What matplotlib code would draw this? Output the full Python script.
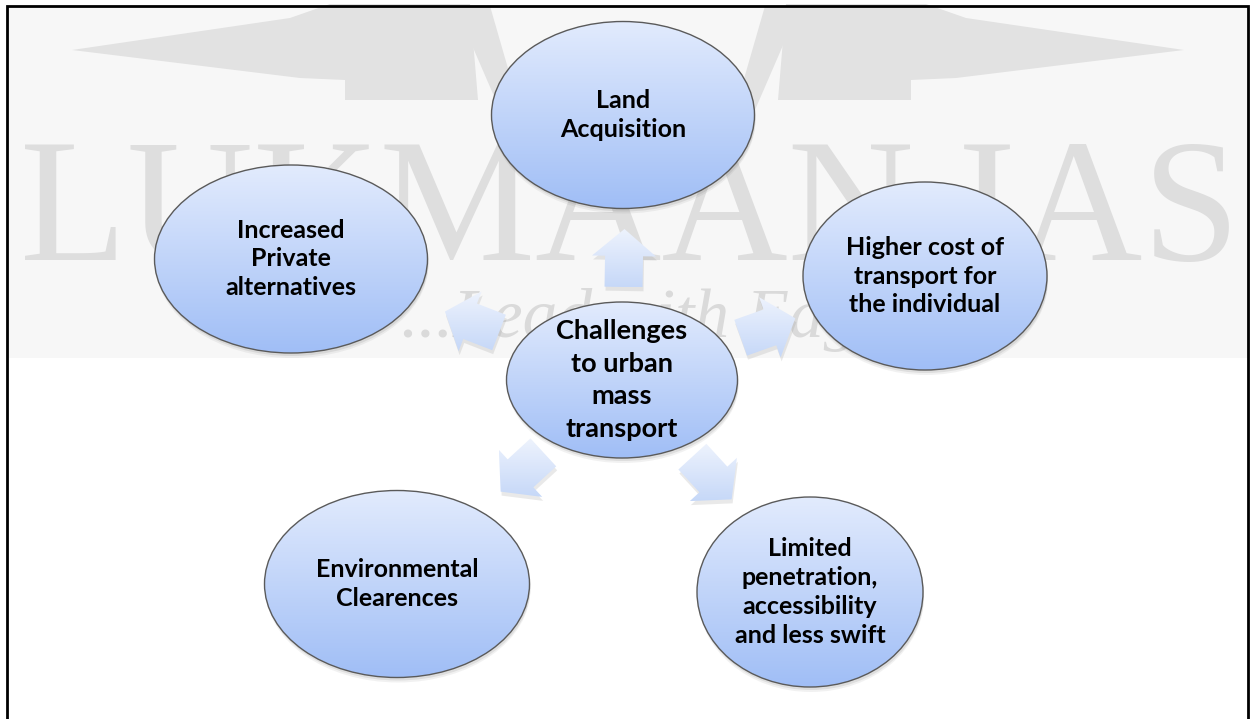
import numpy as np
import matplotlib.pyplot as plt
from matplotlib.patches import Ellipse, Polygon, Rectangle

# =========================
# 1. 数据：节点文字
# =========================
center_label = "Challenges\nto urban\nmass\ntransport"
node_labels = [
    "Land\nAcquisition",
    "Higher cost of\ntransport for\nthe individual",
    "Limited\npenetration,\naccessibility\nand less swift",
    "Environmental\nClearences",
    "Increased\nPrivate\nalternatives",
]
watermark_main = "LUKMAAN IAS"
watermark_sub = "...Lead with Edge"

# =========================
# 2. 布局（像素坐标，y 向下）
# =========================
W, H = 1253, 719
center_xy = (622, 380)
center_size = (231, 156)
node_xy = [(623, 115), (925, 276), (810, 592), (397, 584), (291, 259)]
node_size = [(263, 187), (244, 188), (226, 190), (265, 187), (273, 188)]
arrow_xy = [(624, 258), (768, 328), (712, 478), (522, 472), (472, 322)]

ell_top = np.array([226, 235, 253]) / 255
ell_bot = np.array([160, 190, 246]) / 255
arr_top = np.array([238, 243, 253]) / 255
arr_bot = np.array([198, 216, 248]) / 255

plt.rcParams["font.family"] = ["Lato", "DejaVu Sans"]

fig = plt.figure(figsize=(W / 100, H / 100), dpi=100)
ax = fig.add_axes([0, 0, 1, 1])
ax.axis("off")


def gradient_fill(patch, bbox, c_top, c_bot, z):
    x0, x1, y0, y1 = bbox
    t = np.linspace(0, 1, 200)[:, None, None]
    img = c_top * (1 - t) + c_bot * t
    img = np.repeat(img, 2, axis=1)
    im = ax.imshow(img, extent=(x0, x1, y1, y0), aspect="auto",
                   interpolation="bilinear", zorder=z)
    im.set_clip_path(patch)


def draw_ellipse(xy, size, label, fs, ls, z=3):
    cx, cy = xy
    w, h = size
    for k, a in [(5, 0.08), (3, 0.12)]:
        ax.add_patch(Ellipse((cx + 1, cy + k), w, h, color="#555555",
                             alpha=a, lw=0, zorder=z))
    e = Ellipse((cx, cy), w, h, facecolor="none", edgecolor="#5a5a5a",
                lw=1.0, zorder=z + 0.2)
    ax.add_patch(e)
    gradient_fill(e, (cx - w / 2, cx + w / 2, cy - h / 2, cy + h / 2),
                  ell_top, ell_bot, z + 0.1)
    ax.text(cx, cy, label, ha="center", va="center", fontsize=fs,
            fontweight="bold", color="black", linespacing=ls, zorder=z + 0.3)


def block_arrow(xy, ang, length=58, shaft=38, head_w=64, head_l=27):
    cx, cy = xy
    d = np.array([np.cos(ang), np.sin(ang)])
    n = np.array([-d[1], d[0]])
    c = np.array([cx, cy])
    tail = c - d * length / 2
    neck = c + d * (length / 2 - head_l)
    tip = c + d * length / 2
    pts = [tail + n * shaft / 2, neck + n * shaft / 2, neck + n * head_w / 2,
           tip, neck - n * head_w / 2, neck - n * shaft / 2, tail - n * shaft / 2]
    return np.array(pts)


# =========================
# 3. 水印背景
# =========================
ax.add_patch(Rectangle((8, 6), 1240, 352, color="#f7f7f7", lw=0, zorder=0))
left_wing = np.array([(72, 50), (290, 18), (330, 4), (470, 4), (478, 100),
                      (345, 100), (345, 80), (300, 78)])
right_wing = left_wing.copy()
right_wing[:, 0] = 1256 - right_wing[:, 0]
for wing in (left_wing, right_wing):
    ax.add_patch(Polygon(wing, closed=True, color="#e2e2e2", lw=0, zorder=0.5))
ax.add_patch(Polygon([(455, 6), (490, 6), (520, 110), (500, 110)], color="#e2e2e2",
                     lw=0, zorder=0.5))
ax.add_patch(Polygon([(800, 6), (765, 6), (735, 110), (755, 110)], color="#e2e2e2",
                     lw=0, zorder=0.5))
ax.text(630, 218, watermark_main, ha="center", va="center", fontsize=126,
        family="Liberation Serif", color="#dedede", zorder=1)
ax.text(645, 320, watermark_sub, ha="center", va="center", fontsize=50,
        family="Liberation Serif", style="italic", color="#dadada", zorder=1)

# =========================
# 4. 箭头
# =========================
for (ax_x, ax_y) in arrow_xy:
    ang = np.arctan2(ax_y - center_xy[1], ax_x - center_xy[0])
    pts = block_arrow((ax_x, ax_y), ang)
    ax.add_patch(Polygon(pts + [1, 4], color="#888888", alpha=0.18, lw=0, zorder=2))
    p = Polygon(pts, facecolor="none", edgecolor="none", zorder=2.2)
    ax.add_patch(p)
    gradient_fill(p, (pts[:, 0].min(), pts[:, 0].max(), pts[:, 1].min(), pts[:, 1].max()),
                  arr_top, arr_bot, 2.1)

# =========================
# 5. 椭圆节点
# =========================
for xy, sz, lab in zip(node_xy, node_size, node_labels):
    draw_ellipse(xy, sz, lab, 18, 1.31)
draw_ellipse(center_xy, center_size, center_label, 19.5, 1.42, z=4)

# =========================
# 6. 边框
# =========================
ax.plot([7, 7, 1248, 1248], [H, 6, 6, H], color="black", lw=2.0, zorder=10,
        solid_joinstyle="miter")

ax.set_xlim(0, W)
ax.set_ylim(H, 0)
fig.savefig("out.png", dpi=100)
